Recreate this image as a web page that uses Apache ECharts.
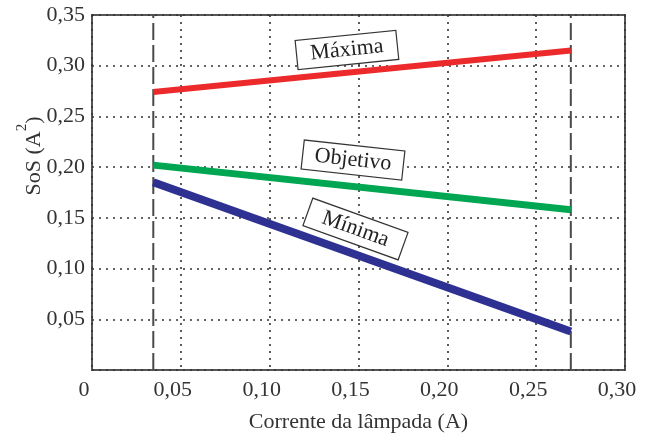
<!DOCTYPE html>
<html>
<head>
<meta charset="utf-8">
<script src="https://cdn.jsdelivr.net/npm/echarts@6/dist/echarts.min.js"></script>
<style>
  html, body { margin: 0; padding: 0; background: #fff; }
  #chart { width: 646px; height: 441px; }
</style>
</head>
<body>
<div id="chart"></div>
<script>
// Lamp current range (A) covered by the three SoS curves
const currentLimits = [0.0345, 0.2695];
// SoS (A²) at the two ends of the current range
const sosMaxima = [0.274, 0.315];
const sosObjetivo = [0.202, 0.158];
const sosMinima = [0.185, 0.038];
// Curve names and where their boxed labels sit (data coordinates)
const curveNames = ['Máxima', 'Objetivo', 'Mínima'];
const labelAnchors = [[0.1435, 0.3155], [0.1469, 0.2070], [0.1483, 0.1390]];
const labelAngles = [5.8, -6.3, -19.8];
// Axis range and texts
const xRange = [0, 0.30];
const yRange = [0, 0.35];
const xAxisTitle = 'Corrente da lâmpada (A)';
const yAxisTitle = ['SoS (A', '2', ')'];

const FONT = 'Liberation Serif, Times New Roman, serif';
const TEXT = '#333';

function fmt(v) {
  if (Math.abs(v) < 1e-9) return '0';
  return v.toFixed(2).replace('.', ',');
}

function pairs(xs, ys) {
  return xs.map((x, i) => [x, ys[i]]);
}

function boxedLabel(i) {
  return {
    coord: labelAnchors[i],
    symbol: 'rect',
    symbolSize: 0,
    label: {
      show: true,
      position: 'inside',
      formatter: curveNames[i],
      rotate: labelAngles[i],
      color: '#222',
      fontFamily: FONT,
      fontSize: 22,
      width: 78,
      align: 'center',
      verticalAlign: 'middle',
      backgroundColor: '#fff',
      borderColor: '#333',
      borderWidth: 1.2,
      padding: [3, 11, 3, 11]
    }
  };
}

const chart = echarts.init(document.getElementById('chart'), null, { renderer: 'canvas' });

const curveColors = ['#ec2a2c', '#00a651', '#2e3192'];
const curveWidths = [6, 7, 8];
const curveData = [sosMaxima, sosObjetivo, sosMinima];

// Dashed verticals marking the current limits, full plot height
const series = currentLimits.map(x => ({
  type: 'line',
  data: [[x, yRange[0]], [x, yRange[1]]],
  showSymbol: false,
  symbol: 'none',
  silent: true,
  z: 2,
  lineStyle: { color: '#4a4a4a', width: 2, type: [17, 5] }
}));

curveData.forEach((ys, i) => series.push({
  name: curveNames[i],
  type: 'line',
  data: pairs(currentLimits, ys),
  showSymbol: false,
  symbol: 'none',
  z: 3,
  lineStyle: { color: curveColors[i], width: curveWidths[i], cap: 'butt' },
  markPoint: { silent: true, z: 5, data: [boxedLabel(i)] }
}));

chart.setOption({
  animation: false,
  backgroundColor: '#fff',
  grid: {
    left: 92, right: 21, top: 15, bottom: 71,
    show: true, borderColor: '#555', borderWidth: 2, backgroundColor: 'transparent'
  },
  xAxis: {
    type: 'value',
    min: xRange[0], max: xRange[1], interval: 0.05,
    name: xAxisTitle,
    nameLocation: 'middle',
    nameGap: 41,
    nameTextStyle: { fontFamily: FONT, fontSize: 22, color: TEXT },
    axisLine: { show: false },
    axisTick: { show: false },
    axisLabel: {
      formatter: fmt, fontFamily: FONT, fontSize: 22, color: TEXT,
      margin: 9, padding: [0, 16, 0, 0]
    },
    splitLine: { show: true, lineStyle: { color: '#333', width: 1.6, type: [2, 5] } }
  },
  yAxis: {
    type: 'value',
    min: yRange[0], max: yRange[1], interval: 0.05,
    axisLine: { show: false },
    axisTick: { show: false },
    axisLabel: {
      formatter: v => (Math.abs(v) < 1e-9 ? '' : fmt(v)),
      fontFamily: FONT, fontSize: 22, color: TEXT, margin: 7
    },
    splitLine: { show: true, lineStyle: { color: '#333', width: 1.6, type: [2, 5] } }
  },
  graphic: [{
    type: 'text',
    x: 30, y: 156,
    rotation: Math.PI / 2,
    style: {
      text: '{a|' + yAxisTitle[0] + '}{s|' + yAxisTitle[1] + '}{a|' + yAxisTitle[2] + '}',
      align: 'center',
      verticalAlign: 'middle',
      rich: {
        a: { fontFamily: FONT, fontSize: 22, fill: TEXT, lineHeight: 30, verticalAlign: 'bottom' },
        s: { fontFamily: FONT, fontSize: 15, fill: TEXT, lineHeight: 30, verticalAlign: 'top' }
      }
    }
  }],
  series: series
});
</script>
</body>
</html>
